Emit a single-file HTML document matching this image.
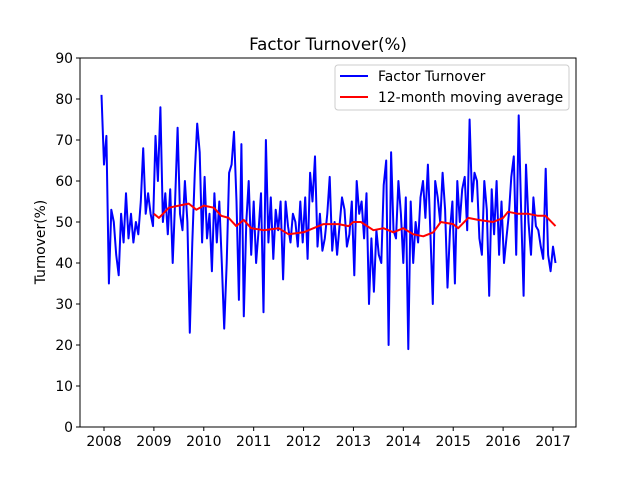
<!DOCTYPE html>
<html><head><meta charset="utf-8"><style>
body{margin:0;background:#fff;font-family:"Liberation Sans","DejaVu Sans",sans-serif}
svg text{font-family:"DejaVu Sans","Liberation Sans",sans-serif;fill:#000}
</style></head><body>
<svg id="c" width="640" height="480"></svg>
<script>
const startYear = 2007.95, endYear = 2017.05;
const turnover = [
81,64,71,35,53,50,42,37,52,45,57,46,52,45,50,47,55,68,52,57,
52,49,71,60,78,50,57,47,58,40,55,73,52,48,60,50,23,45,62,74,
67,45,61,46,52,38,57,45,55,40,24,40,62,64,72,55,31,69,27,50,
60,42,55,40,48,57,28,70,45,56,41,53,48,55,36,55,49,45,52,50,
44,55,45,56,41,62,55,66,44,52,43,46,52,61,43,50,42,49,56,53,
44,47,55,37,60,52,55,46,57,30,46,33,48,42,40,59,65,20,67,48,
46,60,52,40,56,19,55,40,50,45,56,60,51,64,48,30,60,56,50,62,
53,34,48,55,35,60,50,58,61,48,75,55,62,60,46,42,60,53,32,58,
47,60,42,55,40,46,52,61,66,42,76,53,32,64,50,42,56,49,48,44,
41,63,42,38,44,40];
const maDates = [2009.0,2009.1,2009.3,2009.5,2009.7,2009.85,2010.0,2010.2,2010.35,2010.5,2010.65,2010.8,2010.95,2011.2,2011.5,2011.7,2012.0,2012.2,2012.4,2012.7,2012.9,2013.0,2013.15,2013.4,2013.6,2013.8,2014.0,2014.2,2014.4,2014.6,2014.75,2015.0,2015.1,2015.3,2015.5,2015.8,2016.0,2016.1,2016.3,2016.5,2016.7,2016.85,2017.05];
const maValues = [52,51,53.5,54,54.5,53,54,53.5,51.5,51,49,50.5,48.5,48,48.5,47,47.5,48.5,49.5,49.5,49,50,50,48,48.5,47.5,48.5,47,46.5,47.5,50,49.5,48.5,51,50.5,50,51,52.5,52,52,51.5,51.5,49];
const yTicks = [0,10,20,30,40,50,60,70,80,90];
const xTicks = [2008,2009,2010,2011,2012,2013,2014,2015,2016,2017];

const svg = document.getElementById('c');
const NS = 'http://www.w3.org/2000/svg';
const L=80,R=576,T=58,B=427;
const xs = v => 104 + (v-2008)*(553-104)/9;
const ys = v => B - v*(B-T)/90;
function mk(tag, attrs, parent){const e=document.createElementNS(NS,tag);for(const k in attrs)e.setAttribute(k,attrs[k]);(parent||svg).appendChild(e);return e;}

const t = mk('text',{x:328,y:50,'text-anchor':'middle','font-size':16.7});
t.textContent='Factor Turnover(%)';



const yl = mk('text',{x:0,y:0,'text-anchor':'middle','font-size':13.9,transform:'translate(45,242) rotate(-90)'});
yl.textContent='Turnover(%)';



yTicks.forEach(v=>{
  const g = mk('g',{});
  
  
  mk('line',{x1:L-4,x2:L,y1:ys(v),y2:ys(v),stroke:'#000','stroke-width':1},g);
  const tx = mk('text',{x:L-7,y:ys(v)+5,'text-anchor':'end','font-size':13.9},g);
  tx.textContent=v;
});
xTicks.forEach(v=>{
  const g = mk('g',{});
  
  
  mk('line',{x1:xs(v),x2:xs(v),y1:B,y2:B+4,stroke:'#000','stroke-width':1},g);
  const tx = mk('text',{x:xs(v),y:B+19,'text-anchor':'middle','font-size':13.9},g);
  tx.textContent=v;
});

const n = turnover.length;
const step = (endYear-startYear)/(n-1);
const pts = turnover.map((v,i)=>xs(startYear+i*step).toFixed(1)+','+ys(v).toFixed(1)).join(' ');
const tl = mk('polyline',{points:pts,fill:'none',stroke:'#0000ff','stroke-width':2,'stroke-linejoin':'round'});



const mpts = maValues.map((v,i)=>xs(maDates[i]).toFixed(1)+','+ys(v).toFixed(1)).join(' ');
const ml = mk('polyline',{points:mpts,fill:'none',stroke:'#ff0000','stroke-width':2,'stroke-linejoin':'round'});



const frame = mk('rect',{x:L,y:T,width:R-L,height:B-T,fill:'none',stroke:'#000','stroke-width':1});



const lg = mk('g',{});


mk('rect',{x:335,y:65,width:234,height:45,rx:3,fill:'#fff','fill-opacity':0.8,stroke:'#ccc'},lg);
mk('line',{x1:340,x2:368,y1:76,y2:76,stroke:'#0000ff','stroke-width':2},lg);
const l1 = mk('text',{x:378,y:81,'font-size':13.9},lg); l1.textContent='Factor Turnover';
mk('line',{x1:340,x2:368,y1:97,y2:97,stroke:'#ff0000','stroke-width':2},lg);
const l2 = mk('text',{x:378,y:102,'font-size':13.9},lg); l2.textContent='12-month moving average';
</script>
</body></html>
